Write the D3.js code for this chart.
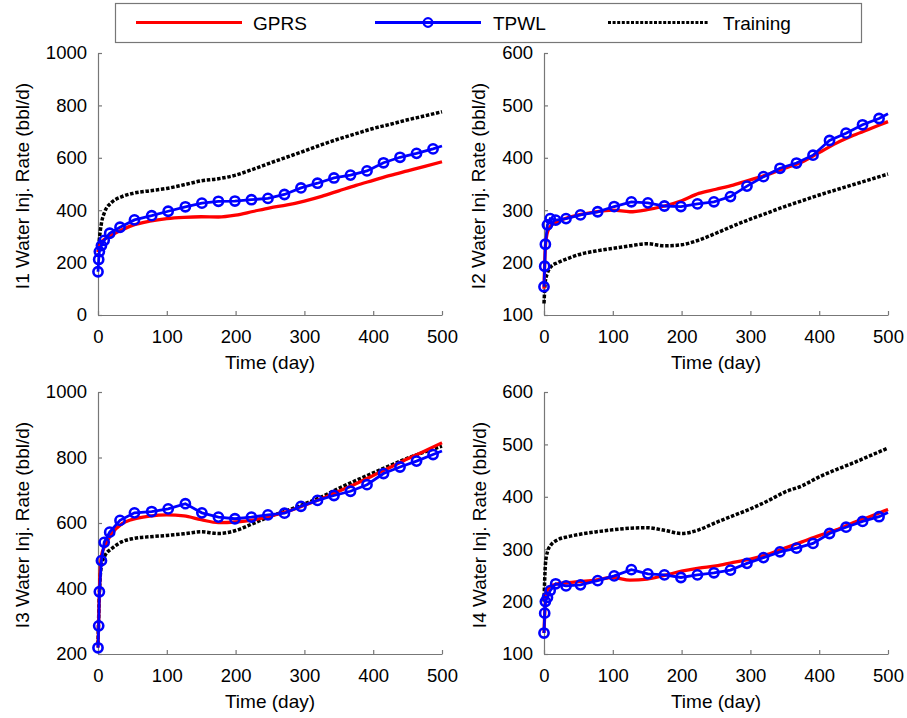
<!DOCTYPE html>
<html>
<head>
<meta charset="utf-8">
<script src="https://cdn.jsdelivr.net/npm/d3@7"></script>
<style>
  body { margin: 0; background: #fff; }
  text { font-family: "Liberation Sans", Arial, sans-serif; fill: #000; }
</style>
</head>
<body>
<div class="canvas"></div>
<script>
// ---- data ----
// time (day) of the TPWL points, the last one has no marker (line end)
const tpwlTime = [0, 1, 2, 5, 9, 17, 32, 53, 78, 102, 127, 151, 175, 199, 223, 247, 271, 295, 319, 343, 367, 391, 415, 439, 463, 487, 500];
// time (day) of the GPRS and training curves
const simTime = [0, 2, 5, 10, 20, 35, 50, 75, 100, 125, 150, 175, 200, 225, 250, 275, 300, 325, 350, 375, 400, 425, 450, 475, 500];

const xTicks = [0, 100, 200, 300, 400, 500];
const seriesNames = ['GPRS', 'TPWL', 'Training'];
const wellNames = ['I1', 'I2', 'I3', 'I4'];

// I1
const i1Gprs = [240, 262, 278, 290, 305, 325, 342, 358, 368, 373, 375, 374, 381, 395, 409, 420, 435, 453, 474, 495, 514, 533, 550, 567, 585];
const i1Tpwl = [165, 212, 242, 265, 285, 312, 335, 363, 379, 396, 413, 427, 434, 435, 440, 445, 460, 485, 503, 523, 534, 550, 581, 602, 617, 634, 645];
const i1Train = [222, 290, 350, 395, 430, 452, 464, 474, 483, 497, 512, 520, 534, 556, 580, 603, 626, 650, 672, 692, 712, 728, 745, 760, 776];
const i1Ticks = [0, 200, 400, 600, 800, 1000];

// I2
const i2Gprs = [150, 230, 258, 270, 278, 286, 291, 297, 300, 297, 301, 308, 318, 332, 340, 348, 358, 368, 380, 392, 410, 428, 443, 456, 469];
const i2Tpwl = [154, 193, 235, 272, 284, 281, 284, 291, 297, 307, 316, 314, 308, 307, 312, 316, 326, 346, 364, 380, 390, 405, 433, 447, 463, 475, 484];
const i2Train = [122, 165, 180, 192, 200, 208, 215, 222, 227, 232, 236, 232, 234, 243, 256, 270, 283, 295, 307, 318, 329, 339, 349, 359, 369];
const i2Ticks = [100, 200, 300, 400, 500, 600];

// I3
const i3Gprs = [220, 390, 500, 530, 567, 598, 611, 621, 625, 622, 610, 601, 603, 609, 621, 635, 654, 674, 697, 720, 745, 770, 796, 820, 845];
const i3Tpwl = [219, 286, 390, 485, 541, 572, 608, 631, 635, 643, 659, 631, 618, 613, 618, 625, 630, 651, 669, 684, 697, 717, 751, 771, 789, 809, 820];
const i3Train = [230, 383, 470, 500, 522, 543, 552, 558, 562, 567, 573, 568, 577, 598, 620, 638, 658, 680, 706, 730, 753, 776, 798, 817, 835];
const i3Ticks = [200, 400, 600, 800, 1000];

// I4
const i4Gprs = [140, 200, 222, 230, 234, 236, 238, 241, 246, 241, 243, 250, 258, 264, 268, 275, 281, 290, 302, 314, 326, 337, 351, 363, 376];
const i4Tpwl = [140, 178, 200, 208, 221, 234, 230, 232, 240, 249, 261, 253, 251, 246, 251, 255, 260, 273, 284, 295, 302, 311, 330, 342, 353, 362, 370];
const i4Train = [200, 270, 295, 308, 318, 324, 328, 333, 337, 340, 341, 336, 330, 337, 351, 364, 377, 392, 409, 421, 438, 452, 465, 479, 493];
const i4Ticks = [100, 200, 300, 400, 500, 600];

// ---- layout ----
const width = 907, height = 718;
const colors = { GPRS: '#ff0000', TPWL: '#0000ff', Training: '#000000' };

const svg = d3.select('.canvas')
  .append('svg')
  .attr('width', width)
  .attr('height', height);

// one entry per panel, positions in px
const panels = [
  { name: wellNames[0], gprs: i1Gprs, tpwl: i1Tpwl, train: i1Train, ticks: i1Ticks, left: 98, top: 53, labelOff: 76 },
  { name: wellNames[1], gprs: i2Gprs, tpwl: i2Tpwl, train: i2Train, ticks: i2Ticks, left: 544, top: 53, labelOff: 66 },
  { name: wellNames[2], gprs: i3Gprs, tpwl: i3Tpwl, train: i3Train, ticks: i3Ticks, left: 98, top: 392, labelOff: 76 },
  { name: wellNames[3], gprs: i4Gprs, tpwl: i4Tpwl, train: i4Train, ticks: i4Ticks, left: 544, top: 392, labelOff: 65 }
];
const plotW = 344, plotH = 262;

panels.forEach(p => {
  const g = svg.append('g').attr('transform', `translate(${p.left}, ${p.top})`);

  const x = d3.scaleLinear().domain([0, 500]).range([0, plotW]);
  const y = d3.scaleLinear().domain(d3.extent(p.ticks)).range([plotH, 0]);

  // axes, MATLAB style: ticks point inward
  const xAxis = d3.axisBottom(x).tickValues(xTicks).tickFormat(d3.format('d'))
    .tickSizeInner(-4).tickSizeOuter(0).tickPadding(15);
  const yAxis = d3.axisLeft(y).tickValues(p.ticks).tickFormat(d3.format('d'))
    .tickSizeInner(-4).tickSizeOuter(0).tickPadding(11);

  const xg = g.append('g').attr('transform', `translate(0, ${plotH})`).call(xAxis);
  const yg = g.append('g').call(yAxis);
  [xg, yg].forEach(a => {
    a.select('.domain').attr('stroke', '#777').attr('stroke-width', 1.2);
    a.selectAll('.tick line').attr('stroke', '#777').attr('stroke-width', 1.2);
    a.selectAll('.tick text').attr('font-size', 18.5).attr('fill', '#000')
      .style('font-family', '"Liberation Sans", Arial, sans-serif');
  });

  // axis titles
  g.append('text')
    .attr('x', plotW / 2).attr('y', plotH + 54)
    .attr('text-anchor', 'middle').attr('font-size', 19)
    .text('Time (day)');
  g.append('text')
    .attr('transform', `translate(${-p.labelOff}, ${plotH / 2 + 2}) rotate(-90)`)
    .attr('dy', '0.35em')
    .attr('text-anchor', 'middle').attr('font-size', 19)
    .text(`${p.name} Water Inj. Rate (bbl/d)`);

  const simLine = d3.line()
    .x((d, i) => x(simTime[i]))
    .y(d => y(d))
    .curve(d3.curveMonotoneX);
  const tpwlLine = d3.line()
    .x((d, i) => x(tpwlTime[i]))
    .y(d => y(d));

  // training (dashed black)
  g.append('path').datum(p.train)
    .attr('d', simLine)
    .attr('fill', 'none').attr('stroke', colors.Training)
    .attr('stroke-width', 3.5).attr('stroke-dasharray', '3.5,1.7');

  // GPRS (red)
  g.append('path').datum(p.gprs)
    .attr('d', simLine)
    .attr('fill', 'none').attr('stroke', colors.GPRS)
    .attr('stroke-width', 3.3);

  // TPWL (blue with circles)
  g.append('path').datum(p.tpwl)
    .attr('d', tpwlLine)
    .attr('fill', 'none').attr('stroke', colors.TPWL)
    .attr('stroke-width', 2.8);

  g.selectAll('circle').data(p.tpwl.slice(0, -1))
    .enter().append('circle')
    .attr('cx', (d, i) => x(tpwlTime[i]))
    .attr('cy', d => y(d))
    .attr('r', 4.6)
    .attr('fill', 'none')
    .attr('stroke', colors.TPWL)
    .attr('stroke-width', 2.6);
});

// ---- legend ----
const legend = svg.append('g');
legend.append('rect')
  .attr('x', 115.5).attr('y', 3.5).attr('width', 746).attr('height', 39)
  .attr('fill', '#fff').attr('stroke', '#777').attr('stroke-width', 1.2);

const legendItems = [
  { name: seriesNames[0], x1: 136, x2: 242, tx: 253 },
  { name: seriesNames[1], x1: 375, x2: 481, tx: 493 },
  { name: seriesNames[2], x1: 608, x2: 708, tx: 723 }
];
legendItems.forEach(it => {
  const line = legend.append('line')
    .attr('x1', it.x1).attr('x2', it.x2).attr('y1', 22.5).attr('y2', 22.5)
    .attr('stroke', colors[it.name]).attr('stroke-width', it.name === 'Training' ? 2.8 : 3);
  if (it.name === 'Training') line.attr('stroke-dasharray', '3,1.6');
  if (it.name === 'TPWL') {
    legend.append('circle')
      .attr('cx', (it.x1 + it.x2) / 2).attr('cy', 22.5).attr('r', 4.3)
      .attr('fill', 'none').attr('stroke', colors.TPWL).attr('stroke-width', 2.3);
  }
  legend.append('text')
    .attr('x', it.tx).attr('y', 23).attr('dy', '0.35em')
    .attr('font-size', 19)
    .text(it.name);
});
</script>
</body>
</html>
